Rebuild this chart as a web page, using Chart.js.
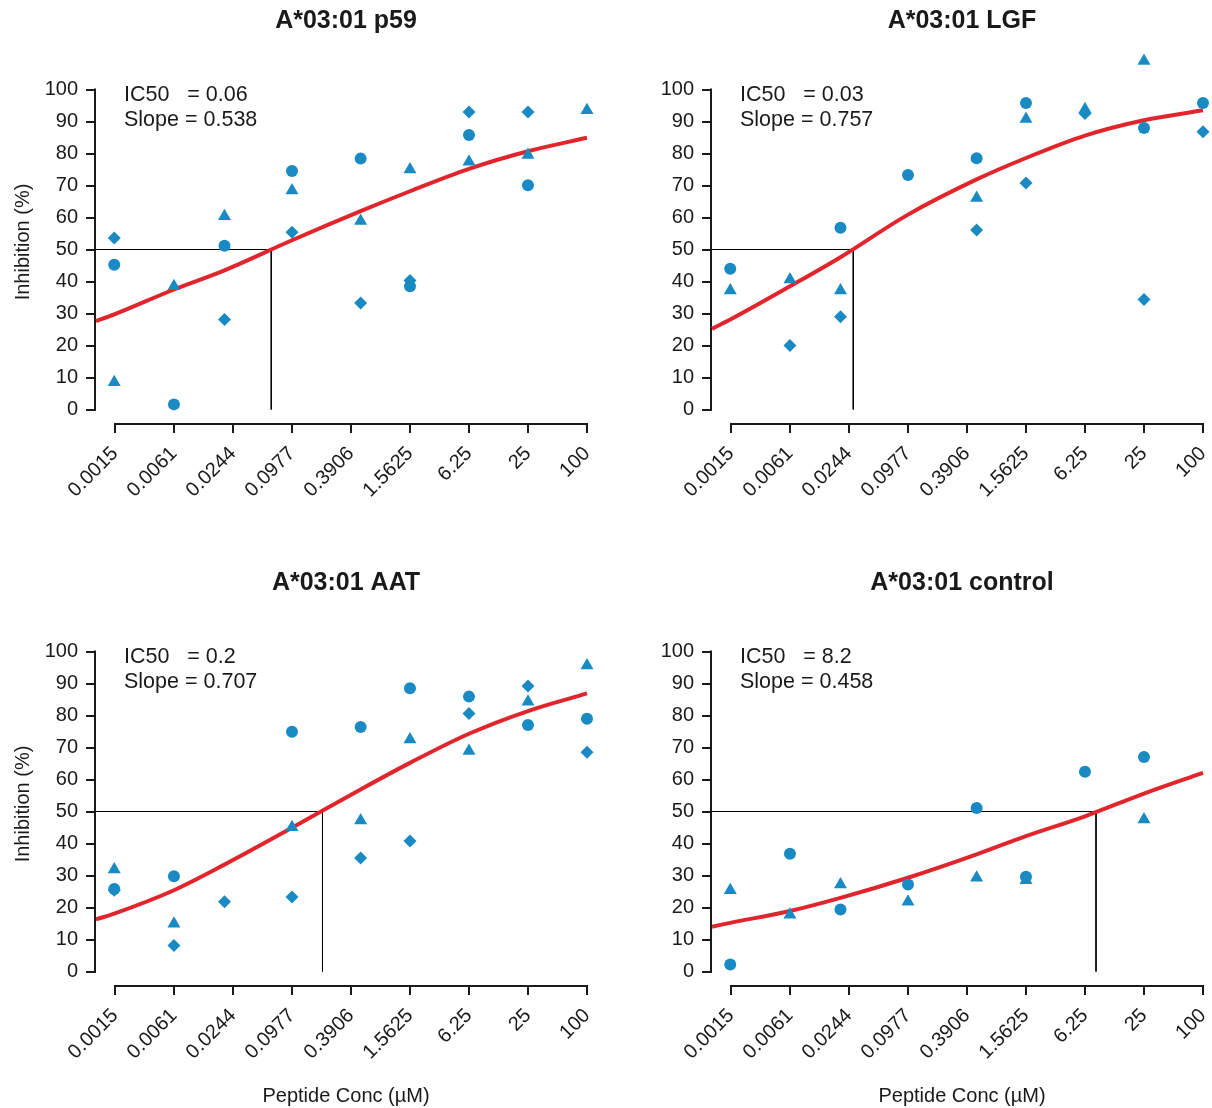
<!DOCTYPE html>
<html>
<head>
<meta charset="utf-8">
<title>Peptide inhibition curves</title>
<script src="https://cdn.jsdelivr.net/npm/chart.js@4.4.0/dist/chart.umd.min.js"></script>
<style>
  body { margin: 0; background: #fff; }
  #wrap { position: relative; width: 1212px; height: 1108px; overflow: hidden; }
  #wrap canvas { position: absolute; }
</style>
</head>
<body>
<div id="wrap">
  <canvas id="chartP59" width="596" height="540" style="left:0;top:0"></canvas>
  <canvas id="chartLGF" width="596" height="540" style="left:616px;top:0"></canvas>
  <canvas id="chartAAT" width="596" height="546" style="left:0;top:562px"></canvas>
  <canvas id="chartControl" width="596" height="546" style="left:616px;top:562px"></canvas>
</div>
<script>
// axis ticks
const xTickValues = [0.0015259, 0.0061035, 0.0244141, 0.0976563, 0.390625, 1.5625, 6.25, 25, 100];
const xTickLabels = ['0.0015', '0.0061', '0.0244', '0.0977', '0.3906', '1.5625', '6.25', '25', '100'];
const yTickValues = [0, 10, 20, 30, 40, 50, 60, 70, 80, 90, 100];

// concentrations where the replicates sit, and where the fitted curve was read
const concentrations = [0.0015, 0.0061, 0.020, 0.0977, 0.49, 1.5625, 6.25, 25, 100];
const fitConc = [0.000977, 0.0015, 0.0061, 0.020, 0.0977, 0.49, 1.5625, 6.25, 25, 100];

// A*03:01 p59
const p59Circles   = [45.2, 1.6, 51.2, 74.5, 78.4, 38.5, 85.8, 70.1, null];
const p59Triangles = [8.5, 38.5, 60.4, 68.4, 58.9, 75.0, 77.4, 79.5, 93.5];
const p59Diamonds  = [53.6, null, 28.1, 55.4, 33.3, 40.3, 93.0, 93.0, null];
const p59Fit       = [27.6, 29.7, 37.5, 43.5, 52.9, 62.0, 68.2, 75.2, 80.7, 84.9];
const p59IC50 = 0.06;

// A*03:01 LGF
const lgfCircles   = [44.0, null, 56.8, 73.3, 78.5, 95.8, null, 88.0, 95.8];
const lgfTriangles = [37.2, 40.6, 37.2, null, 66.1, 90.8, 93.8, 108.9, 114.6];
const lgfDiamonds  = [null, 20.0, 29.0, null, 56.1, 70.8, 92.5, 34.4, 86.8];
const lgfFit       = [25.2, 28.1, 38.5, 47.6, 60.9, 71.9, 78.6, 85.6, 90.4, 93.5];
const lgfIC50 = 0.027;

// A*03:01 AAT
const aatCircles   = [25.8, 29.8, null, 74.9, 76.4, 88.5, 85.9, 77.0, 79.0];
const aatTriangles = [31.9, 14.9, null, 45.1, 47.2, 72.5, 68.9, 84.3, 95.6];
const aatDiamonds  = [25.4, 8.1, 21.8, 23.3, 35.5, 40.8, 80.6, 89.2, 68.5];
const aatFit       = [16.3, 18.1, 25.4, 33.4, 44.9, 56.9, 65.2, 74.3, 81.4, 86.9];
const aatIC50 = 0.2;

// A*03:01 control
const ctlCircles   = [2.2, 36.8, 19.4, 27.2, 51.1, 29.6, 62.4, 67.0, null];
const ctlTriangles = [25.4, 17.7, 27.2, 21.8, 29.3, 28.5, null, 47.5, null];
const ctlFit       = [14.0, 15.2, 18.9, 23.0, 29.3, 36.6, 42.3, 48.5, 55.6, 62.1];
const ctlIC50 = 8.1;

const BLUE = '#1a8ac4';
const RED = '#e0262c';
const INK = '#1a1a1a';
const FONT = "'Liberation Sans', Arial, Helvetica, sans-serif";
const X_MIN = 0.000977;
const X_MAX = 123.6;

function toPoints(xs, ys) {
    return ys.map((v, i) => ({ x: xs[i], y: v })).filter(p => p.y !== null);
}

function markers(values, style, radius) {
    return {
        data: toPoints(concentrations, values),
        pointStyle: style,
        pointRadius: radius,
        pointBorderWidth: 0,
        backgroundColor: BLUE,
        showLine: false,
        clip: false
    };
}

// axis lines only span the tick range, like the original figure
const axisLines = {
    id: 'axisLines',
    beforeDatasetsDraw(chart) {
        const { ctx, scales: { x, y } } = chart;
        ctx.save();
        ctx.strokeStyle = INK;
        ctx.lineWidth = 2;
        ctx.beginPath();
        ctx.moveTo(x.left - 1, y.getPixelForValue(0) + 1);
        ctx.lineTo(x.left - 1, y.getPixelForValue(100) - 1);
        ctx.moveTo(x.getPixelForValue(xTickValues[0]) - 1, x.top + 1);
        ctx.lineTo(x.getPixelForValue(xTickValues[xTickValues.length - 1]) + 1, x.top + 1);
        ctx.stroke();
        ctx.restore();
    }
};

// IC50 / slope text in the top left corner of each plot
const fitLabel = {
    id: 'fitLabel',
    afterDatasetsDraw(chart, args, opts) {
        if (!opts.lines) return;
        const { ctx, chartArea } = chart;
        ctx.save();
        ctx.font = '21.5px ' + FONT;
        ctx.fillStyle = INK;
        ctx.textBaseline = 'middle';
        opts.lines.forEach((line, i) => {
            ctx.fillText(line, chartArea.left + 28, 95 + i * 25);
        });
        ctx.restore();
    }
};

function makeChart(id, cfg) {
    const datasets = [
        markers(cfg.circles, 'circle', 6),
        markers(cfg.triangles, 'triangle', 7.5)
    ];
    if (cfg.diamonds) datasets.push(markers(cfg.diamonds, 'rectRot', 6.5));
    datasets.push({
        data: toPoints(fitConc, cfg.fit),
        showLine: true,
        pointRadius: 0,
        borderColor: RED,
        borderWidth: 4,
        cubicInterpolationMode: 'monotone',
        clip: false
    });
    datasets.push({
        data: [{ x: X_MIN, y: 50 }, { x: cfg.ic50, y: 50 }, { x: cfg.ic50, y: 0 }],
        showLine: true,
        pointRadius: 0,
        borderColor: '#000',
        borderWidth: 1,
        tension: 0
    });

    return new Chart(document.getElementById(id), {
        type: 'scatter',
        data: { datasets: datasets },
        options: {
            responsive: false,
            animation: false,
            devicePixelRatio: 1,
            layout: { padding: 0, autoPadding: false },
            plugins: {
                legend: { display: false },
                tooltip: { enabled: false },
                title: {
                    display: true,
                    text: cfg.title,
                    fullSize: false,
                    color: INK,
                    font: { family: FONT, size: 25, weight: 'bold' },
                    padding: { top: 6, bottom: 25 }
                },
                fitLabel: { lines: cfg.labels }
            },
            scales: {
                x: {
                    type: 'logarithmic',
                    min: X_MIN,
                    max: X_MAX,
                    afterBuildTicks: s => { s.ticks = xTickValues.map(v => ({ value: v })); },
                    afterFit: s => {
                        s.height = cfg.bottomRow ? 123 : 117;
                        s.paddingLeft = 0;
                        s.paddingRight = 0;
                    },
                    border: { display: false },
                    grid: { drawOnChartArea: false, drawTicks: true, tickLength: 10, color: INK, lineWidth: 2 },
                    ticks: {
                        minRotation: 45,
                        maxRotation: 45,
                        autoSkip: false,
                        padding: 9,
                        color: INK,
                        font: { family: FONT, size: 20 },
                        callback: (v, i) => xTickLabels[i]
                    },
                    title: {
                        display: !!cfg.bottomRow,
                        text: 'Peptide Conc (µM)',
                        color: INK,
                        font: { family: FONT, size: 20 },
                        padding: { top: 0, bottom: 0 }
                    }
                },
                y: {
                    // half-pixel shift keeps the IC50 guide line crisp
                    min: -4.21875,
                    max: 108.90625,
                    afterBuildTicks: s => { s.ticks = yTickValues.map(v => ({ value: v })); },
                    afterFit: s => { s.width = 96; },
                    border: { display: false },
                    grid: { drawOnChartArea: false, drawTicks: true, tickLength: 10, color: INK, lineWidth: 2 },
                    ticks: {
                        autoSkip: false,
                        padding: 8,
                        color: INK,
                        font: { family: FONT, size: 20 }
                    },
                    title: {
                        display: !!cfg.yTitle,
                        text: 'Inhibition (%)',
                        color: INK,
                        font: { family: FONT, size: 20 },
                        padding: { top: 11, bottom: 0 }
                    }
                }
            }
        },
        plugins: [axisLines, fitLabel]
    });
}

document.addEventListener('DOMContentLoaded', function() {
    makeChart('chartP59', {
        title: 'A*03:01 p59', yTitle: true,
        circles: p59Circles, triangles: p59Triangles, diamonds: p59Diamonds,
        fit: p59Fit, ic50: p59IC50,
        labels: ['IC50   = 0.06', 'Slope = 0.538']
    });
    makeChart('chartLGF', {
        title: 'A*03:01 LGF',
        circles: lgfCircles, triangles: lgfTriangles, diamonds: lgfDiamonds,
        fit: lgfFit, ic50: lgfIC50,
        labels: ['IC50   = 0.03', 'Slope = 0.757']
    });
    makeChart('chartAAT', {
        title: 'A*03:01 AAT', yTitle: true, bottomRow: true,
        circles: aatCircles, triangles: aatTriangles, diamonds: aatDiamonds,
        fit: aatFit, ic50: aatIC50,
        labels: ['IC50   = 0.2', 'Slope = 0.707']
    });
    makeChart('chartControl', {
        title: 'A*03:01 control', bottomRow: true,
        circles: ctlCircles, triangles: ctlTriangles,
        fit: ctlFit, ic50: ctlIC50,
        labels: ['IC50   = 8.2', 'Slope = 0.458']
    });
});
</script>
</body>
</html>
